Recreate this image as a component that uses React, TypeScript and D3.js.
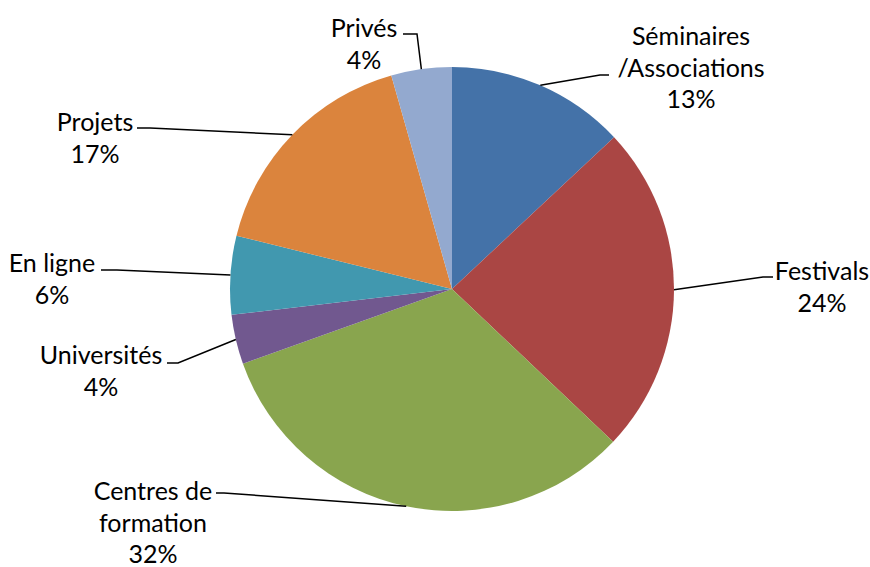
import React from "react";
import * as d3 from "d3";

const categories = ["Séminaires\n/Associations", "Festivals", "Centres de\nformation", "Universités", "En ligne", "Projets", "Privés"];
const values = [13.0, 24.0, 32.4, 3.6, 5.7, 16.7, 4.4];
const percentLabels = ["13%", "24%", "32%", "4%", "6%", "17%", "4%"];
const colors = ["#4472A8", "#AA4644", "#89A54E", "#71588F", "#4198AF", "#DB843D", "#93A9CF"];

// layout: label center x, first baseline y, elbow point, horizontal end x
const labelLayout = [
  { cx: 691, y: 45, elbowX: 600, elbowY: 75, endX: 609 },
  { cx: 822, y: 280, elbowX: 763, elbowY: 277, endX: 773 },
  { cx: 153, y: 500, elbowX: 224, elbowY: 493, endX: 216 },
  { cx: 101, y: 364, elbowX: 178, elbowY: 363, endX: 167 },
  { cx: 52, y: 272, elbowX: 117, elbowY: 270, endX: 101 },
  { cx: 95, y: 131, elbowX: 150, elbowY: 128, endX: 137 },
  { cx: 364, y: 37, elbowX: 417, elbowY: 34, endX: 403 },
];

const W = 870, H = 567;
const CX = 452, CY = 289, R = 222;
const LINE_H = 31.5;

export default function App() {
  const pie = d3.pie<number>().sort(null).value((d) => d);
  const arcs = pie(values);
  const arcGen = d3.arc<d3.PieArcDatum<number>>().innerRadius(0).outerRadius(R);

  return (
    <svg width={W} height={H} style={{ position: "absolute", left: 0, top: 0, background: "#fff" }}
      fontFamily="Lato, 'Liberation Sans', sans-serif">
      <g transform={`translate(${CX},${CY})`}>
        {arcs.map((a, i) => (
          <path key={i} d={arcGen(a) || ""} fill={colors[i]} />
        ))}
      </g>
      {arcs.map((a, i) => {
        const mid = (a.startAngle + a.endAngle) / 2;
        const sx = CX + R * Math.sin(mid);
        const sy = CY - R * Math.cos(mid);
        const L = labelLayout[i];
        const lines = [...categories[i].split("\n"), percentLabels[i]];
        return (
          <g key={i}>
            <polyline points={`${sx},${sy} ${L.elbowX},${L.elbowY} ${L.endX},${L.elbowY}`}
              fill="none" stroke="#000" strokeWidth={1.5} />
            <text textAnchor="middle" fontSize={25} fill="#000">
              {lines.map((t, j) => (
                <tspan key={j} x={L.cx} y={L.y + j * LINE_H}>{t}</tspan>
              ))}
            </text>
          </g>
        );
      })}
    </svg>
  );
}
